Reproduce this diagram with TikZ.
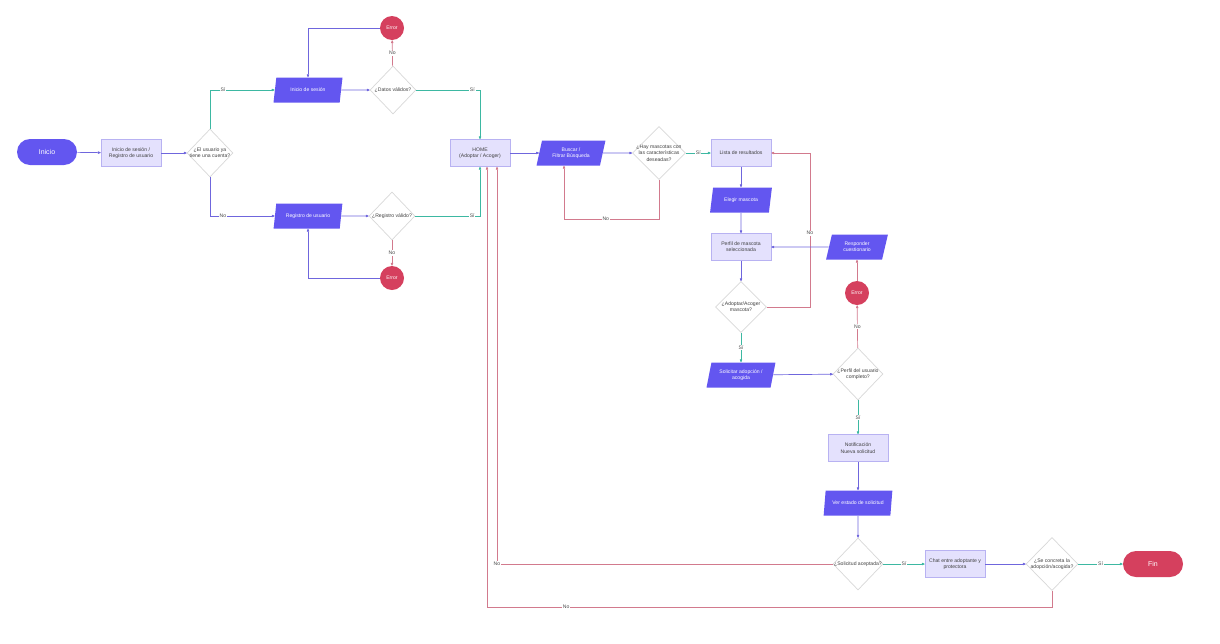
\documentclass[tikz,border=0pt]{standalone}
\usepackage{fontspec}
\setmainfont{Liberation Sans}
\usepackage{tikz}
\usetikzlibrary{shapes.geometric, positioning, arrows.meta}
\usepackage{xcolor}

\definecolor{azul}{HTML}{6356F0}
\definecolor{lila}{HTML}{E4E1FD}
\definecolor{lilaborde}{HTML}{B8B2F2}
\definecolor{lineaazul}{HTML}{6F66DD}
\definecolor{verde}{HTML}{3DB8A2}
\definecolor{rojo}{HTML}{D5405E}
\definecolor{linearoja}{HTML}{D27A8D}
\definecolor{gris}{HTML}{D8D8D8}

\newcommand{\letrachica}{\fontsize{5.1}{6.3}\selectfont}

\begin{document}
\begin{tikzpicture}[x=1pt, y=-1pt, >={Stealth[inset=0pt,length=3.5pt,angle'=40,round]},
                    line width=0.7pt, font=\letrachica,
                    terminal/.style={rectangle, rounded corners=13pt, minimum width=60pt, minimum height=26pt,
                                     text=white, font=\fontsize{7}{8}\selectfont},
                    proceso/.style={rectangle, draw=lilaborde, fill=lila, minimum width=60pt, minimum height=27pt,
                                    inner sep=1pt, align=center, text=black!75},
                    datos/.style={trapezium, trapezium left angle=74, trapezium right angle=106, trapezium stretches=true,
                                  fill=azul, text=white, minimum width=69pt, minimum height=25pt, inner sep=1pt,
                                  align=center},
                    decision/.style={diamond, draw=gris, fill=white, minimum width=48pt, minimum height=48pt,
                                     inner sep=-7pt, align=center, text=black!75},
                    error/.style={circle, fill=rojo, minimum size=24pt, inner sep=0pt, text=white},
                    etiqueta/.style={fill=white, inner sep=0.8pt, text=black!70},
                    flujo/.style={->, lineaazul},
                    si/.style={->, verde},
                    no/.style={->, linearoja}]

    \useasboundingbox (0,0) rectangle (1220,643);

    % acceso
    \node[terminal, fill=azul] (inicio) at (47,152) {Inicio};
    \node[proceso] (acceso) at (131,153) {Inicio de sesión /\\Registro de usuario};
    \node[decision, minimum width=46pt] (cuenta) at (210,153) {¿El usuario ya\\tiene una cuenta?};

    \node[datos] (sesion) at (308,90) {Inicio de sesión};
    \node[decision, minimum width=46pt] (datosok) at (393,90) {¿Datos válidos?};
    \node[error] (error1) at (392,28) {Error};

    \node[datos] (registro) at (308,216) {Registro de usuario};
    \node[decision, minimum width=46pt] (registrook) at (392,216) {¿Registro válido?};
    \node[error] (error2) at (392,278) {Error};

    % busqueda
    \node[proceso] (home) at (480,153) {HOME\\(Adoptar / Acoger)};
    \node[datos] (buscar) at (571,153) {Buscar /\\Filtrar Búsqueda};
    \node[decision, minimum width=53pt, minimum height=53pt] (hay) at (659,153) {¿Hay mascotas con\\las características\\deseadas?};
    \node[proceso] (lista) at (741,153) {Lista de resultados};
    \node[datos, minimum width=62pt] (elegir) at (741,200) {Elegir mascota};
    \node[proceso] (perfil) at (741,247) {Perfil de mascota\\seleccionada};
    \node[decision, minimum width=51pt, minimum height=51pt] (adoptar) at (741,307) {¿Adoptar/Acoger\\mascota?};
    \node[datos] (solicitar) at (741,375) {Solicitar adopción /\\acogida};

    % solicitud
    \node[decision, minimum width=50pt, minimum height=52pt] (completo) at (858,374) {¿Perfil del usuario\\completo?};
    \node[error] (error3) at (857,293) {Error};
    \node[datos, minimum width=62pt] (responder) at (857,247) {Responder\\cuestionario};
    \node[proceso] (notif) at (858,448) {Notificación\\Nueva solicitud};
    \node[datos] (estado) at (858,503) {Ver estado de solicitud};
    \node[decision, minimum width=50pt, minimum height=52pt] (aceptada) at (858,564) {¿Solicitud aceptada?};
    \node[proceso] (chat) at (955,564) {Chat entre adoptante y\\protectora};
    \node[decision, minimum width=52pt, minimum height=53pt] (concreta) at (1052,564) {¿Se concreta la\\adopción/acogida?};
    \node[terminal, fill=rojo] (fin) at (1153,564) {Fin};

    \draw[flujo] (inicio) -- (acceso);
    \draw[flujo] (acceso) -- (cuenta);
    \draw[si] (cuenta.north) |- node[etiqueta, pos=0.6] {Sí} (sesion);
    \draw[flujo] (cuenta.south) |- node[etiqueta, pos=0.6] {No} (registro);

    \draw[flujo] (sesion) -- (datosok);
    \draw[no] (datosok) -- node[etiqueta] {No} (error1);
    \draw[flujo] (error1) -| (sesion);
    \draw[si] (datosok) -| node[etiqueta, pos=0.44] {Sí} (home);

    \draw[flujo] (registro) -- (registrook);
    \draw[no] (registrook) -- node[etiqueta] {No} (error2);
    \draw[flujo] (error2) -| (registro);
    \draw[si] (registrook) -| node[etiqueta, pos=0.44] {Sí} (home);

    \draw[flujo] (home) -- (buscar);
    \draw[flujo] (buscar) -- (hay);
    \draw[si] (hay) -- node[etiqueta] {Sí} (lista);
    \draw[no] (hay.south) -- ++(0,39) -| node[etiqueta, pos=0.28] {No} ([xshift=-7pt]buscar.south);

    \draw[flujo] (lista) -- (elegir);
    \draw[flujo] (elegir) -- (perfil);
    \draw[flujo] (perfil) -- (adoptar);
    \draw[no] (adoptar.east) -- ++(43,0) |- node[etiqueta, pos=0.24] {No} (lista);
    \draw[si] (adoptar) -- node[etiqueta] {Sí} (solicitar);
    \draw[flujo] (solicitar) -- (completo);

    \draw[no] (completo) -- node[etiqueta] {No} (error3);
    \draw[no] (error3) -- (responder);
    \draw[flujo] (responder) -- (perfil);
    \draw[si] (completo) -- node[etiqueta] {Sí} (notif);
    \draw[flujo] (notif) -- (estado);
    \draw[flujo] (estado) -- (aceptada);
    \draw[si] (aceptada) -- node[etiqueta] {Sí} (chat);
    \draw[flujo] (chat) -- (concreta);
    \draw[si] (concreta) -- node[etiqueta] {Sí} (fin);

    \draw[no] (aceptada.west) -| node[etiqueta, pos=0.5] {No} ([xshift=17pt]home.south);
    \draw[no] (concreta.south) -- ++(0,16) -| node[etiqueta, pos=0.43] {No} ([xshift=7pt]home.south);
\end{tikzpicture}
\end{document}
